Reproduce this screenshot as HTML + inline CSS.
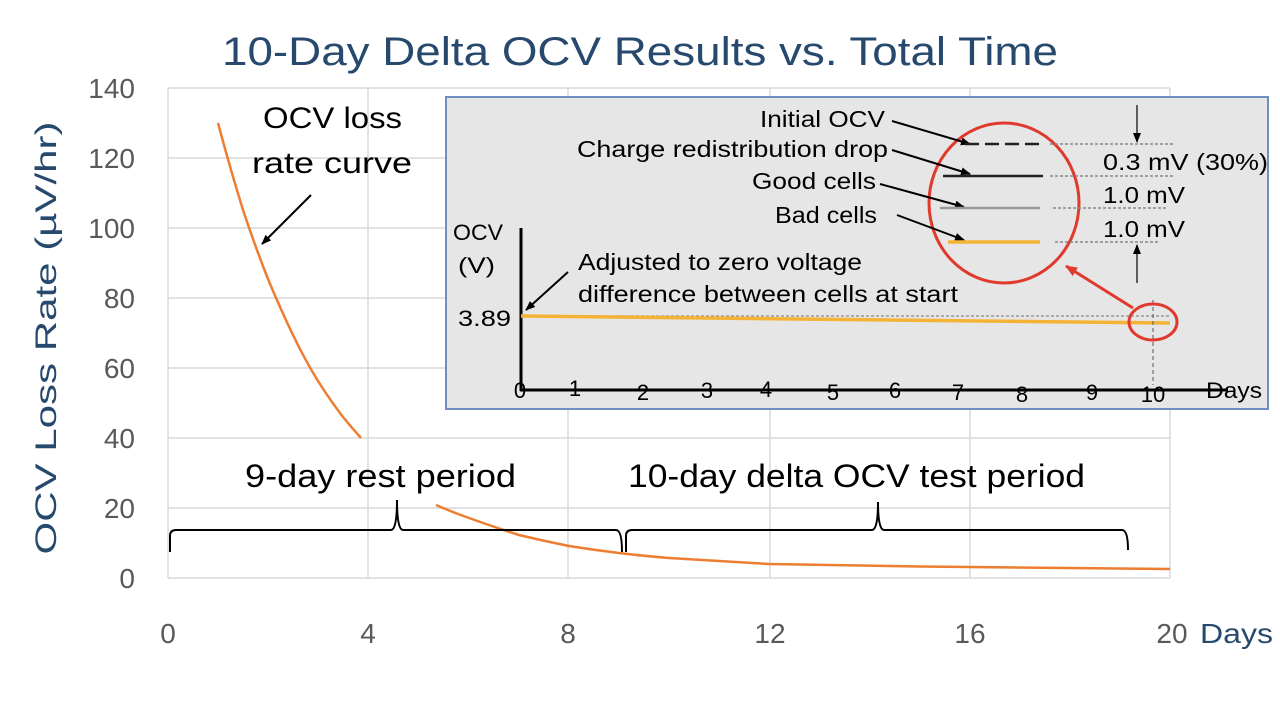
<!DOCTYPE html>
<html><head><meta charset="utf-8"><style>
html,body{margin:0;padding:0;background:#fff;}
svg{display:block;font-family:"Liberation Sans",sans-serif;}
</style></head><body>
<svg width="1280" height="721" viewBox="0 0 1280 721" xmlns="http://www.w3.org/2000/svg">
<defs>
<marker id="ah" markerWidth="10" markerHeight="8" refX="9" refY="4" orient="auto" markerUnits="userSpaceOnUse"><path d="M0,0 L10,4 L0,8 z" fill="#000"/></marker>
<marker id="ahr" markerWidth="12" markerHeight="10" refX="11" refY="5" orient="auto" markerUnits="userSpaceOnUse"><path d="M0,0 L12,5 L0,10 z" fill="#e03a2f"/></marker>
</defs>
<text x="222" y="65" font-size="40" fill="#27496d" textLength="836" lengthAdjust="spacingAndGlyphs">10-Day Delta OCV Results vs. Total Time</text>
<g stroke="#d9d9d9" stroke-width="1.5">
<line x1="168" y1="88" x2="1170" y2="88"/><line x1="168" y1="158" x2="1170" y2="158"/>
<line x1="168" y1="228" x2="1170" y2="228"/><line x1="168" y1="298" x2="1170" y2="298"/>
<line x1="168" y1="368" x2="1170" y2="368"/><line x1="168" y1="438" x2="1170" y2="438"/>
<line x1="168" y1="508" x2="1170" y2="508"/><line x1="168" y1="578" x2="1170" y2="578"/>
<line x1="168" y1="88" x2="168" y2="578"/><line x1="368" y1="88" x2="368" y2="578"/>
<line x1="568" y1="88" x2="568" y2="578"/><line x1="770" y1="88" x2="770" y2="578"/>
<line x1="970" y1="88" x2="970" y2="578"/><line x1="1170" y1="88" x2="1170" y2="578"/>
</g>
<g font-size="28" fill="#595959" text-anchor="end">
<text x="135" y="98">140</text><text x="135" y="168">120</text><text x="135" y="238">100</text>
<text x="135" y="308">80</text><text x="135" y="378">60</text><text x="135" y="448">40</text>
<text x="135" y="518">20</text><text x="135" y="588">0</text>
</g>
<g font-size="28" fill="#595959" text-anchor="middle">
<text x="168" y="643">0</text><text x="368" y="643">4</text><text x="568" y="643">8</text>
<text x="770" y="643">12</text><text x="970" y="643">16</text><text x="1172" y="643">20</text>
</g>
<text x="1200" y="643" font-size="28" fill="#27496d" textLength="73" lengthAdjust="spacingAndGlyphs">Days</text>
<text transform="translate(56,338) rotate(-90)" text-anchor="middle" font-size="30" fill="#27496d" textLength="433" lengthAdjust="spacingAndGlyphs">OCV Loss Rate (µV/hr)</text>
<path d="M218,123 Q230,168 243,210 Q255,246 268,279 Q280,308 293,335 Q305,360 318,381 Q330,400 343,417 Q352,428 361,438" fill="none" stroke="#ed7d31" stroke-width="2.5"/>
<path d="M436,505 Q452,512 469,518 Q494,527 519,535 Q544,541 569,546 Q594,550 619,553 Q644,556 669,558 Q719,561 769,564 Q845,565.5 920,566.5 L1170,569" fill="none" stroke="#ed7d31" stroke-width="2.5"/>
<text x="263" y="128" font-size="30" textLength="139" lengthAdjust="spacingAndGlyphs">OCV loss</text>
<text x="252" y="173" font-size="30" textLength="160" lengthAdjust="spacingAndGlyphs">rate curve</text>
<line x1="311" y1="195" x2="262" y2="244" stroke="#000" stroke-width="2" marker-end="url(#ah)"/>
<text x="245" y="487" font-size="32" textLength="271" lengthAdjust="spacingAndGlyphs">9-day rest period</text>
<text x="628" y="487" font-size="32" textLength="457" lengthAdjust="spacingAndGlyphs">10-day delta OCV test period</text>
<path d="M170,552 L170,536 Q170,530 176,530 L391,530 Q397,530 397,500 Q397,530 403,530 L616,530 Q622,530 622,552" fill="none" stroke="#000" stroke-width="2"/>
<path d="M626,552 L626,536 Q626,530 632,530 L872,530 Q878,530 878,502 Q878,530 884,530 L1122,530 Q1128,530 1128,550" fill="none" stroke="#000" stroke-width="2"/>
<rect x="446" y="97" width="822" height="312" fill="#e6e6e6" stroke="#6f8fc4" stroke-width="2"/>
<line x1="521" y1="228" x2="521" y2="391" stroke="#000" stroke-width="3"/>
<line x1="520" y1="390" x2="1228" y2="390" stroke="#000" stroke-width="3"/>
<g font-size="22" text-anchor="middle">
<text x="520" y="398">0</text><text x="575" y="396">1</text><text x="643" y="400">2</text>
<text x="707" y="398">3</text><text x="766" y="397">4</text><text x="833" y="400">5</text>
<text x="895" y="398">6</text><text x="958" y="400">7</text><text x="1022" y="402">8</text>
<text x="1092" y="400">9</text><text x="1153" y="402">10</text>
</g>
<text x="1206" y="398" font-size="22" textLength="56" lengthAdjust="spacingAndGlyphs">Days</text>
<text x="453" y="240" font-size="22" textLength="50" lengthAdjust="spacingAndGlyphs">OCV</text>
<text x="458" y="273" font-size="22" textLength="37" lengthAdjust="spacingAndGlyphs">(V)</text>
<text x="458" y="326" font-size="22" textLength="53" lengthAdjust="spacingAndGlyphs">3.89</text>
<line x1="521" y1="316" x2="1170" y2="316" stroke="#999" stroke-width="1.5" stroke-dasharray="3,2"/>
<path d="M521,316 L1170,323" stroke="#f5b335" stroke-width="3.5" fill="none"/>
<line x1="1153" y1="300" x2="1153" y2="385" stroke="#555" stroke-width="1" stroke-dasharray="4,3"/>
<ellipse cx="1153" cy="322" rx="24" ry="18" fill="none" stroke="#e03a2f" stroke-width="3"/>
<line x1="1133" y1="308" x2="1066" y2="266" stroke="#e03a2f" stroke-width="3" marker-end="url(#ahr)"/>
<ellipse cx="1004" cy="203" rx="75" ry="80" fill="none" stroke="#e03a2f" stroke-width="3"/>
<text x="578" y="270" font-size="23" textLength="284" lengthAdjust="spacingAndGlyphs">Adjusted to zero voltage</text>
<text x="578" y="302" font-size="23" textLength="380" lengthAdjust="spacingAndGlyphs">difference between cells at start</text>
<line x1="568" y1="272" x2="526" y2="310" stroke="#000" stroke-width="2" marker-end="url(#ah)"/>
<g font-size="23">
<text x="760" y="127" textLength="125" lengthAdjust="spacingAndGlyphs">Initial OCV</text>
<text x="577" y="157" textLength="311" lengthAdjust="spacingAndGlyphs">Charge redistribution drop</text>
<text x="752" y="189" textLength="124" lengthAdjust="spacingAndGlyphs">Good cells</text>
<text x="775" y="223" textLength="102" lengthAdjust="spacingAndGlyphs">Bad cells</text>
</g>
<line x1="892" y1="121" x2="970" y2="144" stroke="#000" stroke-width="2" marker-end="url(#ah)"/>
<line x1="892" y1="150" x2="970" y2="174" stroke="#000" stroke-width="2" marker-end="url(#ah)"/>
<line x1="880" y1="184" x2="964" y2="207" stroke="#000" stroke-width="2" marker-end="url(#ah)"/>
<line x1="897" y1="215" x2="964" y2="240" stroke="#000" stroke-width="2" marker-end="url(#ah)"/>
<line x1="965" y1="144" x2="1040" y2="144" stroke="#222" stroke-width="2.5" stroke-dasharray="14,6"/>
<line x1="943" y1="176" x2="1043" y2="176" stroke="#222" stroke-width="2.5"/>
<line x1="940" y1="208" x2="1040" y2="208" stroke="#999" stroke-width="2.5"/>
<line x1="948" y1="242" x2="1040" y2="242" stroke="#f5b335" stroke-width="3.5"/>
<g stroke="#888" stroke-width="1.5" stroke-dasharray="3,2">
<line x1="1050" y1="144" x2="1175" y2="144"/><line x1="1050" y1="176" x2="1175" y2="176"/>
<line x1="1053" y1="208" x2="1167" y2="208"/><line x1="1055" y1="242" x2="1160" y2="242"/>
</g>
<line x1="1137" y1="105" x2="1137" y2="142" stroke="#000" stroke-width="1.2" marker-end="url(#ah)"/>
<line x1="1137" y1="283" x2="1137" y2="245" stroke="#000" stroke-width="1.2" marker-end="url(#ah)"/>
<g font-size="23">
<text x="1103" y="170" textLength="165" lengthAdjust="spacingAndGlyphs">0.3 mV (30%)</text>
<text x="1103" y="203" textLength="82" lengthAdjust="spacingAndGlyphs">1.0 mV</text>
<text x="1103" y="237" textLength="82" lengthAdjust="spacingAndGlyphs">1.0 mV</text>
</g>
</svg>
</body></html>
